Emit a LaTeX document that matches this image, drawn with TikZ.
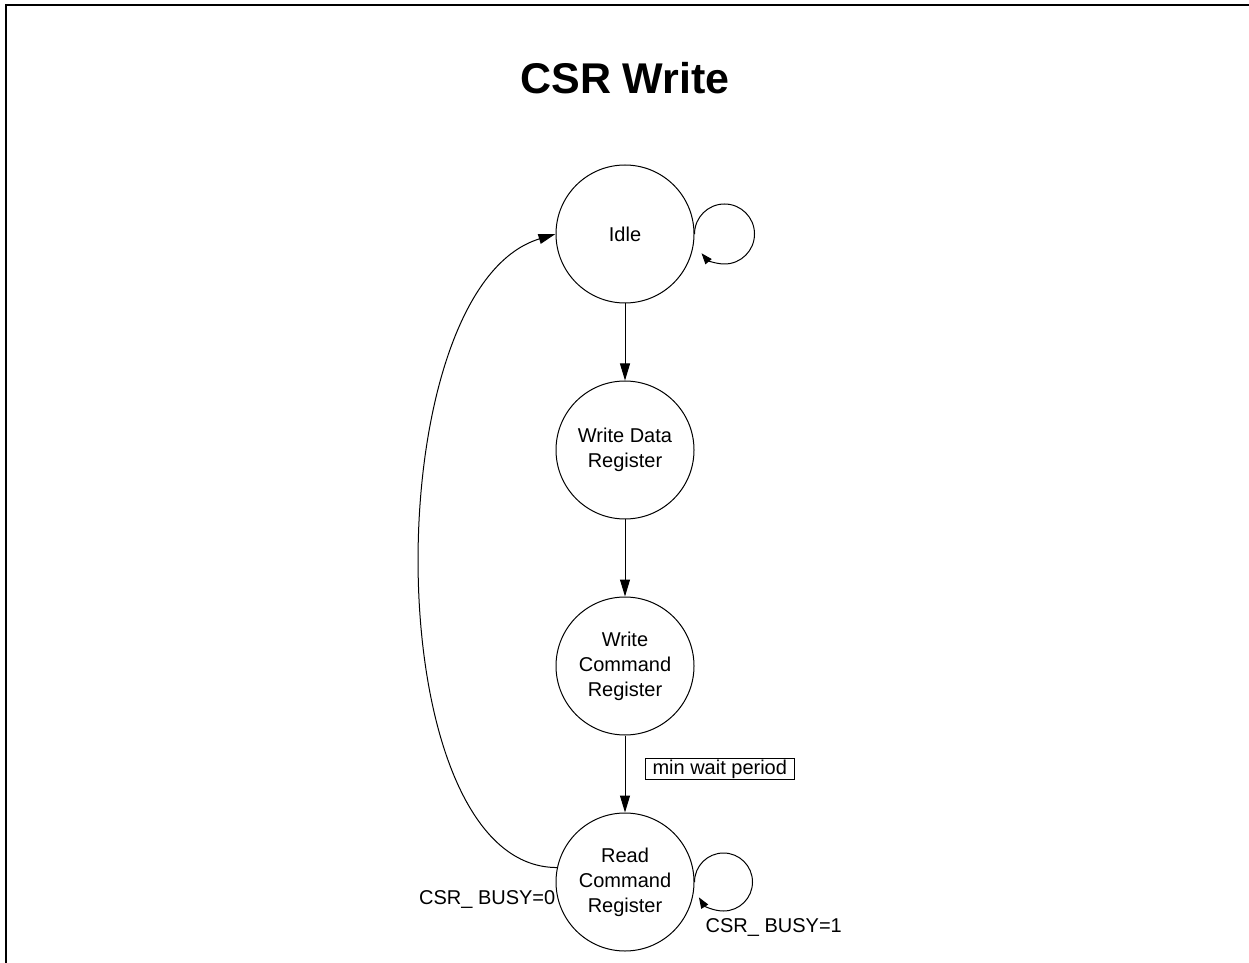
\documentclass[tikz,border=0pt]{standalone}
\usepackage{fontspec}
\setmainfont{Liberation Sans}
\usetikzlibrary{positioning,arrows.meta}
\tikzset{
  state/.style={draw,circle,line width=1pt,minimum size=138pt,inner sep=0pt,
    align=center,font=\fontsize{20}{25}\selectfont},
  flow/.style={-{Triangle[length=17pt,width=10pt]},line width=1pt},
  loopflow/.style={-{Triangle[length=11pt,width=8pt]},line width=1pt},
  cond/.style={inner sep=0pt,font=\fontsize{20}{24}\selectfont},
  tagbox/.style={draw,line width=1pt,inner xsep=7pt,inner ysep=1.5pt,
    text height=14pt,text depth=4pt,font=\fontsize{20}{24}\selectfont},
  heading/.style={font=\fontsize{43}{50}\selectfont\bfseries}
}

\begin{document}
\begin{tikzpicture}[x=1pt,y=1pt,node distance=77pt]
  \useasboundingbox (0,0) rectangle (1249,962);
  \draw[line width=2pt] (6,-10) -- (6,957) -- (1260,957);

  \node[heading] (title) at (625,884) {CSR Write};

  \node[state] (idle) at (625,728) {Idle};
  \node[state,below=of idle] (wdata) {Write Data\\Register};
  \node[state,below=of wdata] (wcmd) {Write\\Command\\Register};
  \node[state,below=of wcmd] (rcmd) {Read\\Command\\Register};

  \draw[flow] (idle) -- (wdata);
  \draw[flow] (wdata) -- (wcmd);
  \draw[flow] (wcmd) -- node[tagbox,anchor=west,xshift=20pt,pos=0.44] (minwait) {min wait period} (rcmd);

  \draw[loopflow] (idle.east) arc[start angle=180,end angle=-140,radius=30pt];
  \draw[loopflow] (rcmd.east) arc[start angle=180,end angle=-148,radius=29pt];

  \draw[flow] (rcmd.168) .. controls +(-182,0) and +(-181,-55) .. (idle.west);

  \node[cond,anchor=east] (busyzero) at ([yshift=-17pt]rcmd.west) {CSR\_ BUSY=0};
  \node[cond,anchor=west] (busyone) at ([xshift=11pt,yshift=-45pt]rcmd.east) {CSR\_ BUSY=1};
\end{tikzpicture}
\end{document}
